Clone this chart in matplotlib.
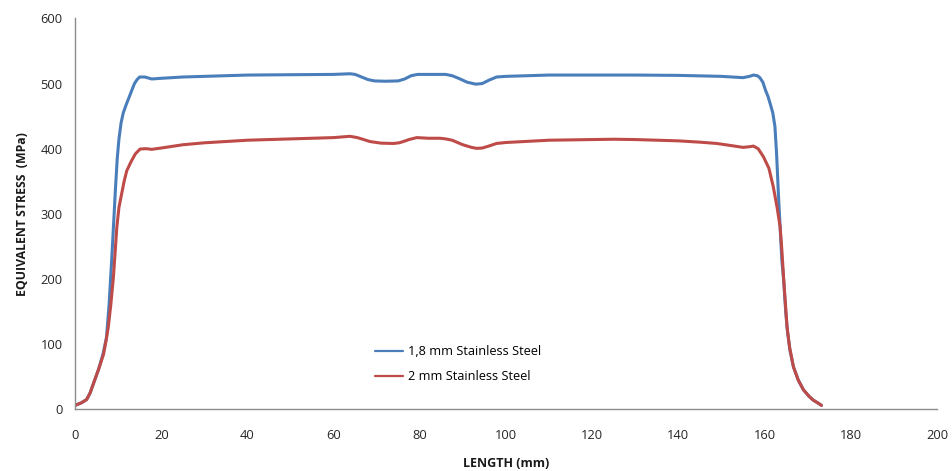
import matplotlib
matplotlib.use("Agg")
import matplotlib.pyplot as plt

# Equivalent stress along the part length for two sheet thicknesses
length_18 = [0, 1.5, 2.7, 3.5, 4.2, 5.5, 6.5, 7.3, 7.9, 8.5, 9.0, 9.4, 9.8,
             10.2, 10.7, 11.2, 11.9, 12.5, 13.2, 13.8, 14.4, 15.0, 16.2, 17.8,
             20, 25, 30, 40, 50, 60, 63.8, 65, 66.5, 68, 69.5, 72, 75, 76.5,
             78, 79.5, 82, 86, 87.5, 89, 91, 93, 94.5, 96, 97.8, 100, 110, 120,
             130, 140, 150, 155, 156.5, 157.4, 158.3, 158.9, 159.6, 160.2,
             160.8, 161.3, 161.9, 162.4, 162.8, 163.2, 164.0, 164.4, 164.9,
             165.3, 165.9, 166.7, 167.8, 169, 170.3, 171.3, 172.3, 173.2]
stress_18 = [6, 10, 15, 25, 38, 62, 85, 110, 160, 228, 290, 340, 385,
             415, 440, 455, 468, 478, 490, 500, 506, 510, 510, 507,
             508, 510, 511, 513, 513.5, 514, 515, 514, 510, 506, 504, 503.5,
             504, 507, 512, 514, 514, 514, 512, 508, 502, 499, 500, 505, 510,
             511, 513, 513, 513, 512.5, 511, 509, 511, 513, 512, 509, 502,
             490, 480, 469, 455, 434, 390, 331, 229, 200, 150,
             120, 90, 65, 45, 30, 20, 14, 10, 6]

length_20 = [0, 1.5, 2.7, 3.5, 4.2, 5.5, 6.6, 7.2, 7.7, 8.3, 8.9, 9.3, 9.7,
             10.2, 10.8, 11.4, 12, 13, 14, 15.1, 16.5, 17.8, 20, 25, 30, 40,
             50, 60, 63.8, 65.5, 67, 68.4, 71, 73.9, 75.2, 76.2, 77.5, 79.3,
             82, 84.7, 86, 87.5, 90, 92, 93.2, 94.5, 96, 97.8, 100, 110, 120,
             125, 130, 140, 145, 148.9, 152, 155, 156.5, 157.4, 158.5, 159.7,
             161, 162, 162.9, 163.6, 164, 164.4, 164.8, 165.2, 165.8, 166.7,
             167.8, 169, 170.3, 171.3, 172.3, 173.2]
stress_20 = [6, 10, 15, 25, 38, 62, 84, 105, 125, 160, 202, 240, 279,
             310, 330, 350, 366, 380, 392, 399.5, 400, 399, 401, 406, 409, 413,
             415, 417, 419, 417, 414, 411, 408.5, 408, 409, 411, 414, 417,
             416, 416, 415, 413, 406, 402, 400.5, 401, 404, 408, 409.5, 413,
             414, 414.5, 414, 412, 410, 408, 405, 402, 403, 404, 400, 388,
             370, 342, 310, 280, 245, 203, 165, 127, 95, 65,
             45, 30, 20, 14, 10, 6]

series_labels = ["1,8 mm Stainless Steel", "2 mm Stainless Steel"]
x_ticks = [0, 20, 40, 60, 80, 100, 120, 140, 160, 180, 200]
y_ticks = [0, 100, 200, 300, 400, 500, 600]

plt.rcParams["font.family"] = ["Open Sans", "DejaVu Sans"]

fig = plt.figure(figsize=(9.53, 4.71), dpi=100)
ax = fig.add_axes([0.0787, 0.131, 0.9045, 0.830])

ax.plot(length_18, stress_18, color="#4A7EBB", lw=2.2, label=series_labels[0],
        solid_capstyle="round", solid_joinstyle="round")
ax.plot(length_20, stress_20, color="#BE4B48", lw=2.2, label=series_labels[1],
        solid_capstyle="round", solid_joinstyle="round")

ax.set_xlim(0, 200)
ax.set_ylim(0, 600)
ax.set_xticks(x_ticks)
ax.set_yticks(y_ticks)
ax.tick_params(length=0, labelsize=9.3, colors="#262626")
ax.tick_params(axis="y", pad=9)
ax.tick_params(axis="x", pad=14)

for side in ("top", "right"):
    ax.spines[side].set_visible(False)
for side in ("left", "bottom"):
    ax.spines[side].set_color("#8C8C8C")
    ax.spines[side].set_linewidth(1.0)

ax.set_xlabel("LENGTH (mm)", fontsize=9, fontweight="bold", labelpad=11,
              color="#1a1a1a")
ax.set_ylabel("EQUIVALENT STRESS  (MPa)", fontsize=8.8, fontweight="bold",
              labelpad=8, color="#1a1a1a")

leg = ax.legend(loc="center left", bbox_to_anchor=(0.348, 0.1153),
                frameon=False, fontsize=9.2, handlelength=2.2,
                handletextpad=0.4, labelspacing=0.95, borderpad=0,
                borderaxespad=0)
for line in leg.get_lines():
    line.set_linewidth(1.6)

fig.savefig("out.png", dpi=100, facecolor="white")
